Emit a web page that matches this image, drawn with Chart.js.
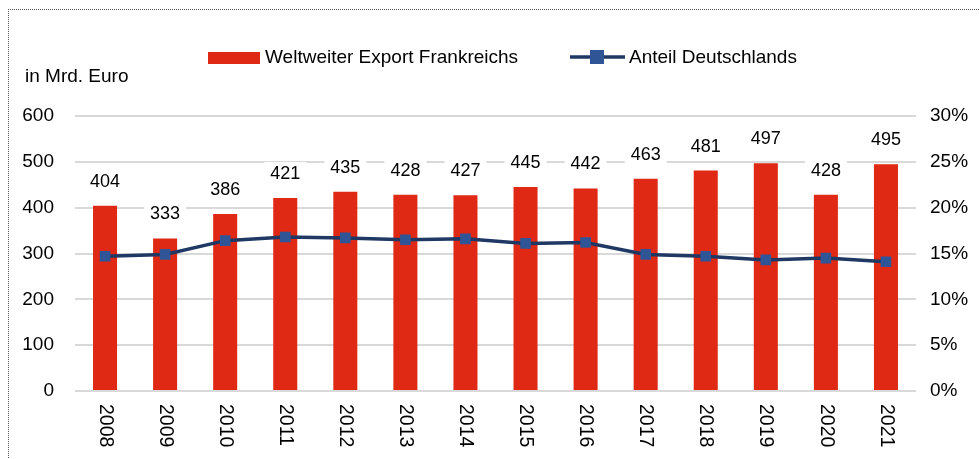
<!DOCTYPE html>
<html>
<head>
<meta charset="utf-8">
<script src="https://cdn.jsdelivr.net/npm/chart.js@4.4.1/dist/chart.umd.min.js"></script>
<style>
  html, body { margin: 0; padding: 0; background: #fff; }
  #wrap { position: relative; width: 979px; height: 459px; overflow: hidden; }
  #frame { position: absolute; left: 8px; top: 9px; width: 1000px; height: 500px;
           border-top: 1px dotted #555; border-left: 1px dotted #555; pointer-events: none; }
  canvas { position: absolute; left: 0; top: 0; }
</style>
</head>
<body>
<div id="wrap">
  <canvas id="c" width="979" height="459"></canvas>
  <div id="frame"></div>
</div>
<script>
const years = ['2008','2009','2010','2011','2012','2013','2014','2015','2016','2017','2018','2019','2020','2021'];
const exportValues = [404, 333, 386, 421, 435, 428, 427, 445, 442, 463, 481, 497, 428, 495];
const shareGermany = [0.147, 0.149, 0.164, 0.168, 0.167, 0.165, 0.166, 0.161, 0.162, 0.149, 0.147, 0.143, 0.145, 0.141];
const leftTicks = [0, 100, 200, 300, 400, 500, 600];
const rightTicks = [0, 0.05, 0.10, 0.15, 0.20, 0.25, 0.30];
const exportLabel = 'Weltweiter Export Frankreichs';
const shareLabel = 'Anteil Deutschlands';
const unitLabel = 'in Mrd. Euro';

const FONT = '"Liberation Sans", Arial, sans-serif';
const RED = '#DF2915';
const LINE = '#1F3864';
const MARK = '#2F5597';

const customDraw = {
  id: 'customDraw',
  afterDatasetsDraw(chart) {
    const ctx = chart.ctx;
    const meta = chart.getDatasetMeta(1);
    ctx.save();
    ctx.font = '18px ' + FONT;
    ctx.textAlign = 'center';
    ctx.textBaseline = 'middle';
    meta.data.forEach((bar, i) => {
      const txt = String(exportValues[i]);
      const w = ctx.measureText(txt).width;
      const cy = bar.y - 25;
      ctx.fillStyle = '#fff';
      ctx.fillRect(bar.x - w / 2 - 6, cy - 11, w + 12, 22);
      ctx.fillStyle = '#000';
      ctx.fillText(txt, bar.x, cy + 1);
    });
    ctx.restore();
  },
  afterDraw(chart) {
    const ctx = chart.ctx;
    const ca = chart.chartArea;
    const xs = chart.scales.x;
    ctx.save();
    ctx.font = '19.5px ' + FONT;
    ctx.fillStyle = '#000';
    ctx.textAlign = 'left';
    ctx.textBaseline = 'middle';
    years.forEach((y, i) => {
      const x = xs.getPixelForValue(i);
      ctx.save();
      ctx.translate(x, ca.bottom + 13);
      ctx.rotate(Math.PI / 2);
      ctx.fillText(y, 0, 0);
      ctx.restore();
    });
    ctx.font = '19px ' + FONT;
    ctx.textAlign = 'left';
    ctx.fillText(unitLabel, 25, 77);
    ctx.fillStyle = RED;
    ctx.fillRect(208, 52, 52, 12);
    ctx.fillStyle = '#000';
    ctx.fillText(exportLabel, 265, 58);
    ctx.strokeStyle = LINE;
    ctx.lineWidth = 3.5;
    ctx.beginPath();
    ctx.moveTo(570, 57);
    ctx.lineTo(625, 57);
    ctx.stroke();
    ctx.fillStyle = MARK;
    ctx.fillRect(590, 50, 14, 14);
    ctx.fillStyle = '#000';
    ctx.fillText(shareLabel, 629, 58);
    ctx.restore();
  }
};

new Chart(document.getElementById('c'), {
  data: {
    labels: years,
    datasets: [
      {
        type: 'line',
        label: shareLabel,
        data: shareGermany,
        yAxisID: 'y1',
        borderColor: LINE,
        borderWidth: 3.5,
        pointStyle: 'rect',
        pointRadius: 7.5,
        pointBackgroundColor: MARK,
        pointBorderColor: MARK,
        pointBorderWidth: 0,
        tension: 0,
        order: 0
      },
      {
        type: 'bar',
        label: exportLabel,
        data: exportValues,
        yAxisID: 'y',
        backgroundColor: RED,
        barPercentage: 0.4,
        categoryPercentage: 1.0,
        order: 1
      }
    ]
  },
  options: {
    responsive: false,
    animation: false,
    devicePixelRatio: 1,
    layout: { padding: { top: 116, left: 0, right: 0, bottom: 0 } },
    plugins: { legend: { display: false }, tooltip: { enabled: false } },
    scales: {
      x: {
        grid: { display: false, drawTicks: false },
        border: { display: false },
        ticks: { display: false },
        afterFit(s) { s.height = 68; }
      },
      y: {
        position: 'left',
        min: 0, max: 600,
        afterBuildTicks(s) { s.ticks = leftTicks.map(v => ({ value: v })); },
        grid: { color: '#D9D9D9', lineWidth: 2, drawTicks: false },
        border: { display: false },
        ticks: { font: { family: FONT, size: 19 }, color: '#000', padding: 21 },
        afterFit(s) { s.width = 75; }
      },
      y1: {
        position: 'right',
        min: 0, max: 0.3,
        afterBuildTicks(s) { s.ticks = rightTicks.map(v => ({ value: v })); },
        grid: { display: false, drawTicks: false },
        border: { display: false },
        ticks: {
          font: { family: FONT, size: 19 }, color: '#000', padding: 14,
          callback: v => Math.round(v * 100) + '%'
        },
        afterFit(s) { s.width = 63; }
      }
    }
  },
  plugins: [customDraw]
});
</script>
</body>
</html>
